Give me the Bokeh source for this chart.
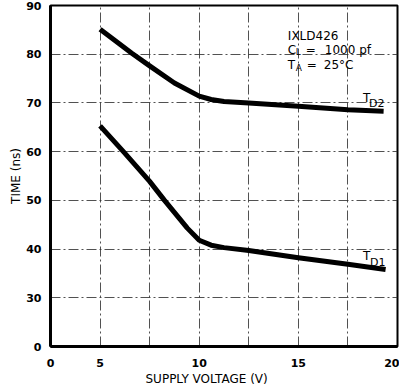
from bokeh.plotting import figure
from bokeh.models import FixedTicker, Label, Range1d, Title
from bokeh.embed import file_html
from bokeh.resources import INLINE

# Supply voltage (V) and propagation delay times (ns)
volt_td2 = [5, 6.6, 7.5, 8.75, 10, 10.6, 11.25, 12.5, 15, 17.5, 19.3]
time_td2 = [85.1, 80.2, 77.6, 74.1, 71.4, 70.7, 70.3, 70.0, 69.3, 68.6, 68.3]

volt_td1 = [5, 6.2, 7.5, 8.25, 9.4, 10, 10.6, 11.25, 12.5, 15, 17.5, 19.4]
time_td1 = [65.3, 59.9, 53.9, 50.0, 44.3, 41.8, 40.8, 40.3, 39.7, 38.2, 36.9, 35.8]

# Axis ticks (axes are broken: "0" sits where 2.5 V / 20 ns would be)
x_ticks = [2.5, 5, 10, 15, 20]
x_tick_labels = ["0", "5", "10", "15", "20"]
y_ticks = [20, 30, 40, 50, 60, 70, 80, 90]
y_tick_labels = ["0", "30", "40", "50", "60", "70", "80", "90"]
x_grid = [5, 7.5, 10, 12.5, 15, 17.5]
y_grid = [30, 40, 50, 60, 70, 80]

FONT = "DejaVu Sans"

p = figure(width=399, height=386, output_backend="svg", toolbar_location=None,
           x_range=Range1d(2.5, 20), y_range=Range1d(20, 90),
           min_border_left=50, min_border_right=2, min_border_top=5,
           min_border_bottom=10)
p.background_fill_color = "white"
p.border_fill_color = "white"
p.outline_line_color = "black"
p.outline_line_width = 2

p.xaxis.ticker = FixedTicker(ticks=x_ticks)
p.xaxis.major_label_overrides = {t: l for t, l in zip(x_ticks, x_tick_labels)}
p.yaxis.ticker = FixedTicker(ticks=y_ticks)
p.yaxis.major_label_overrides = {t: l for t, l in zip(y_ticks, y_tick_labels)}

for ax in (p.xaxis[0], p.yaxis[0]):
    ax.major_tick_line_color = None
    ax.minor_tick_line_color = None
    ax.axis_line_color = "black"
    ax.axis_line_width = 3
    ax.major_label_text_font = FONT
    ax.major_label_text_font_size = "11px"
    ax.major_label_text_font_style = "bold"
    ax.major_label_text_color = "black"

p.xaxis.major_label_standoff = 6
p.yaxis.major_label_standoff = 3
p.yaxis.axis_label = "TIME (ns)"
p.yaxis.axis_label_text_font = FONT
p.yaxis.axis_label_text_font_size = "12px"
p.yaxis.axis_label_text_font_style = "normal"
p.yaxis.axis_label_text_color = "black"
p.yaxis.axis_label_standoff = 0

p.add_layout(Title(text="SUPPLY VOLTAGE (V)", align="left", offset=95,
                   text_font=FONT, text_font_size="12px", text_font_style="normal",
                   text_color="black", standoff=1), "below")

p.xgrid.ticker = FixedTicker(ticks=x_grid)
p.ygrid.ticker = FixedTicker(ticks=y_grid)
for g in (p.xgrid[0], p.ygrid[0]):
    g.grid_line_color = "#333333"
    g.grid_line_width = 1
    g.grid_line_dash = "10 3 2 3"
    g.grid_line_alpha = 0.85

p.line(volt_td2, time_td2, line_color="black", line_width=5, line_join="round")
p.line(volt_td1, time_td1, line_color="black", line_width=5, line_join="round")

def lab(x, y, text, dx=0, dy=0, size="12px"):
    p.add_layout(Label(x=x, y=y, x_offset=dx, y_offset=dy, text=text, text_font=FONT,
                       text_font_size=size, text_color="black",
                       text_baseline="alphabetic", text_align="left"))

# Condition block
lab(14.47, 83.7, "IXLD426")
lab(14.47, 80.9, "C")
lab(14.47, 80.9, "L", dx=8, dy=-2, size="9px")
lab(14.47, 80.9, "=", dx=18)
lab(14.47, 80.9, "1000 pf", dx=37)
lab(14.47, 77.8, "T")
lab(14.47, 77.8, "A", dx=8, dy=-3, size="9px")
lab(14.47, 77.8, "=", dx=19)
lab(14.47, 77.8, "25°C", dx=36)

# Curve labels
lab(18.26, 71.0, "T")
lab(18.26, 71.0, "D2", dx=6, dy=-5, size="11px")
lab(18.26, 38.5, "T")
lab(18.26, 38.5, "D1", dx=7, dy=-6, size="11px")

open("out.html", "w").write(file_html(p, INLINE))
